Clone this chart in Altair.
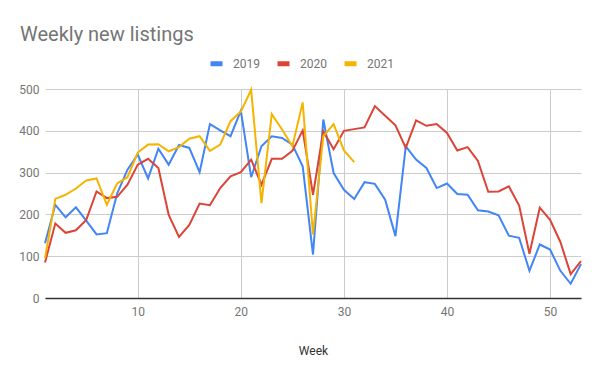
import altair as alt
import pandas as pd

weeks = list(range(1, 54))
years = ["2019", "2020", "2021"]
colors = ["#4285F4", "#DB4437", "#F4B400"]

v2019 = [131, 223, 193, 217, 185, 152, 155, 250, 307, 343, 286, 357, 319, 366, 359, 301, 416, 401, 387, 448,
         289, 363, 387, 383, 367, 315, 104, 427, 299, 259, 237, 277, 273, 235, 148, 363, 331, 311, 263, 274,
         249, 247, 210, 207, 198, 149, 144, 65, 128, 116, 65, 34, 81]
v2020 = [85, 178, 156, 162, 187, 255, 239, 242, 271, 319, 333, 311, 199, 146, 175, 226, 222, 263, 291, 301,
         331, 271, 333, 333, 352, 401, 247, 399, 356, 400, 404, 408, 459, 436, 413, 359, 425, 412, 416, 395,
         353, 361, 328, 254, 255, 267, 221, 106, 216, 187, 134, 57, 88]
v2021 = [95, 237, 247, 262, 281, 286, 223, 274, 289, 348, 367, 368, 351, 361, 381, 387, 352, 367, 423, 446,
         498, 227, 440, 403, 363, 468, 152, 387, 416, 353, 325]

x_ticks = [10, 20, 30, 40, 50]
y_ticks = [0, 100, 200, 300, 400, 500]

rows = []
for yr, vals in zip(years, [v2019, v2020, v2021]):
    for w, v in zip(weeks, vals):
        rows.append({"week": w, "value": v, "year": yr})
df = pd.DataFrame(rows)

chart = alt.Chart(df).mark_line(strokeWidth=2).encode(
    x=alt.X("week:Q",
            scale=alt.Scale(domain=[1, 53], nice=False, zero=False),
            axis=alt.Axis(values=x_ticks, title="Week", grid=True, ticks=False,
                          domain=True, domainColor="#333333", domainWidth=1.5,
                          labelPadding=8, titlePadding=28, titleColor="#333333",
                          titleFontWeight="normal")),
    y=alt.Y("value:Q",
            scale=alt.Scale(domain=[0, 500], nice=False),
            axis=alt.Axis(values=y_ticks, title=None, grid=True, ticks=False,
                          domain=False, labelPadding=6)),
    color=alt.Color("year:N",
                    scale=alt.Scale(domain=years, range=colors),
                    legend=alt.Legend(title=None, orient="none", direction="horizontal",
                                      legendX=163, legendY=-34,
                                      symbolType="stroke", symbolSize=144, symbolStrokeWidth=5,
                                      labelOffset=8, columnPadding=7,
                                      labelFont="Roboto", labelFontSize=12, labelColor="#757575")),
).properties(
    width=536,
    height=209,
    title=alt.TitleParams("Weekly new listings", anchor="start", frame="group",
                          font="Roboto", fontSize=20, fontWeight="normal", color="#757575",
                          baseline="alphabetic", dx=-25, dy=19, offset=13),
    autosize=alt.AutoSizeParams(type="none"),
    padding={"left": 37, "top": 81, "right": 11, "bottom": 60},
).configure_axis(
    labelFont="Roboto", labelFontSize=12, labelColor="#757575",
    titleFont="Roboto", titleFontSize=12,
    gridColor="#cccccc", gridWidth=1,
).configure_view(stroke=None)

chart.save("out.html", embed_options={"renderer": "svg", "actions": False})
